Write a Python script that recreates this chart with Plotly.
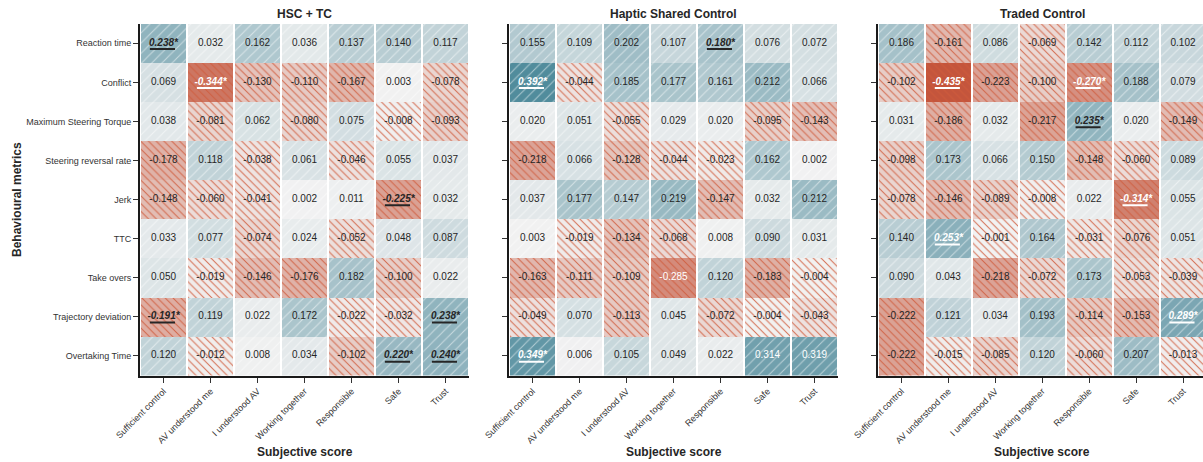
import plotly.graph_objects as go
from plotly.colors import sample_colorscale

# Behavioural metrics (rows) and subjective scores (columns)
metrics = [
    "Reaction time", "Conflict", "Maximum Steering Torque", "Steering reversal rate",
    "Jerk", "TTC", "Take overs", "Trajectory deviation", "Overtaking Time",
]
scores = [
    "Sufficient control", "AV understood me", "I understood AV", "Working together",
    "Responsible", "Safe", "Trust",
]
panel_titles = ["HSC + TC", "Haptic Shared Control", "Traded Control"]

# Correlation coefficients, one row per behavioural metric
hsc_tc = [
    [0.238, 0.032, 0.162, 0.036, 0.137, 0.140, 0.117],
    [0.069, -0.344, -0.130, -0.110, -0.167, 0.003, -0.078],
    [0.038, -0.081, 0.062, -0.080, 0.075, -0.008, -0.093],
    [-0.178, 0.118, -0.038, 0.061, -0.046, 0.055, 0.037],
    [-0.148, -0.060, -0.041, 0.002, 0.011, -0.225, 0.032],
    [0.033, 0.077, -0.074, 0.024, -0.052, 0.048, 0.087],
    [0.050, -0.019, -0.146, -0.176, 0.182, -0.100, 0.022],
    [-0.191, 0.119, 0.022, 0.172, -0.022, -0.032, 0.238],
    [0.120, -0.012, 0.008, 0.034, -0.102, 0.220, 0.240],
]
haptic = [
    [0.155, 0.109, 0.202, 0.107, 0.180, 0.076, 0.072],
    [0.392, -0.044, 0.185, 0.177, 0.161, 0.212, 0.066],
    [0.020, 0.051, -0.055, 0.029, 0.020, -0.095, -0.143],
    [-0.218, 0.066, -0.128, -0.044, -0.023, 0.162, 0.002],
    [0.037, 0.177, 0.147, 0.219, -0.147, 0.032, 0.212],
    [0.003, -0.019, -0.134, -0.068, 0.008, 0.090, 0.031],
    [-0.163, -0.111, -0.109, -0.285, 0.120, -0.183, -0.004],
    [-0.049, 0.070, -0.113, 0.045, -0.072, -0.004, -0.043],
    [0.349, 0.006, 0.105, 0.049, 0.022, 0.314, 0.319],
]
traded = [
    [0.186, -0.161, 0.086, -0.069, 0.142, 0.112, 0.102],
    [-0.102, -0.435, -0.223, -0.100, -0.270, 0.188, 0.079],
    [0.031, -0.186, 0.032, -0.217, 0.235, 0.020, -0.149],
    [-0.098, 0.173, 0.066, 0.150, -0.148, -0.060, 0.089],
    [-0.078, -0.146, -0.089, -0.008, 0.022, -0.314, 0.055],
    [0.140, 0.253, -0.001, 0.164, -0.031, -0.076, 0.051],
    [0.090, 0.043, -0.218, -0.072, 0.173, -0.053, -0.039],
    [-0.222, 0.121, 0.034, 0.193, -0.114, -0.153, 0.289],
    [-0.222, -0.015, -0.085, 0.120, -0.060, 0.207, -0.013],
]

# Significant correlations as (row, column)
sig_hsc_tc = [(0, 0), (1, 1), (4, 5), (7, 0), (7, 6), (8, 5), (8, 6)]
sig_haptic = [(0, 4), (1, 0), (8, 0)]
sig_traded = [(1, 1), (1, 4), (2, 4), (4, 5), (5, 1), (7, 6)]

panels = [(hsc_tc, sig_hsc_tc), (haptic, sig_haptic), (traded, sig_traded)]

W, H = 1203, 462
FONT = "Arial, 'Liberation Sans', sans-serif"
V_LIM = 0.44
CORR_SCALE = [[0.0, "#c3533a"], [0.5, "#f2f2f2"], [1.0, "#3d7f92"]]
DARK_TEXT = "#262626"
AXIS_COLOR = "#1a1a1a"
CELL_W = 0.955

# Hatch styles: negative -> "\" in red, positive -> "/" in translucent white
HATCH = {
    "neg": dict(shape="\\", color="#cf5a3b", opacity=0.85, size=5.5, solidity=0.19),
    "pos": dict(shape="/", color="#ffffff", opacity=0.5, size=7.2, solidity=0.15),
}

# Horizontal pixel extents of each panel and its right-hand data limit
panel_px = [(140, 469, 6.5), (509, 838, 6.5), (878, 1203, 6.5 - 3.5 / 47)]
Y_TOP, Y_BOT = 23.8, 375.5

fig = go.Figure()
annotations = []

for k, ((values, sig), title) in enumerate(zip(panels, panel_titles), start=1):
    xa, ya = f"x{k}", f"y{k}"
    sig_set = set(sig)
    xs, ys, bases, colors = [], [], [], []
    hatch_cells = {"neg": ([], []), "pos": ([], [])}
    labels, tcolors = [], []
    ul = {DARK_TEXT: ([], []), "white": ([], [])}
    for r, row in enumerate(values):
        for c, v in enumerate(row):
            xs.append(c)
            ys.append(r)
            bases.append(r - 0.5)
            colors.append(sample_colorscale(CORR_SCALE, [(v + V_LIM) / (2 * V_LIM)])[0])
            hx, hb = hatch_cells["neg" if v < 0 else "pos"]
            hx.append(c)
            hb.append(r - 0.5)
            tc = "white" if abs(v) >= 0.25 else DARK_TEXT
            tcolors.append(tc)
            if (r, c) in sig_set:
                labels.append(f"<b><i>{v:.3f}*</i></b>")
                ux, uy = ul[tc]
                ux += [c - 0.29, c + 0.245, None]
                uy += [r + 0.145, r + 0.145, None]
            else:
                labels.append(f"{v:.3f}")

    # solid cell fill
    fig.add_trace(go.Bar(
        x=xs, y=[1] * len(xs), base=bases, width=CELL_W,
        marker=dict(color=colors, line=dict(width=0)),
        xaxis=xa, yaxis=ya, hoverinfo="skip", showlegend=False,
    ))
    # hatching on top of the fill
    for key, (hx, hb) in hatch_cells.items():
        if not hx:
            continue
        st = HATCH[key]
        fig.add_trace(go.Bar(
            x=hx, y=[1] * len(hx), base=hb, width=CELL_W,
            marker=dict(
                color=st["color"], line=dict(width=0),
                pattern=dict(shape=st["shape"], fillmode="replace",
                             fgcolor=st["color"], fgopacity=st["opacity"],
                             size=st["size"], solidity=st["solidity"]),
            ),
            xaxis=xa, yaxis=ya, hoverinfo="skip", showlegend=False,
        ))
    fig.add_trace(go.Scatter(
        x=xs, y=ys, mode="text", text=labels,
        textfont=dict(color=tcolors, size=10, family=FONT),
        textposition="middle center",
        xaxis=xa, yaxis=ya, hoverinfo="skip", showlegend=False,
    ))
    for col, (ux, uy) in ul.items():
        if ux:
            fig.add_trace(go.Scatter(
                x=ux, y=uy, mode="lines", line=dict(color=col, width=2),
                xaxis=xa, yaxis=ya, hoverinfo="skip", showlegend=False,
            ))

    x0, x1, xmax = panel_px[k - 1]
    axis_common = dict(
        showline=True, linecolor=AXIS_COLOR, linewidth=2, mirror=False,
        ticks="outside", ticklen=5, tickwidth=1, tickcolor="#333",
        showgrid=False, zeroline=False, automargin=False,
        tickfont=dict(size=9, color="#333", family=FONT),
    )
    fig.update_layout(**{
        f"xaxis{k}": dict(
            domain=[x0 / W, x1 / W], range=[-0.5, xmax], anchor=ya,
            tickvals=list(range(len(scores))), ticktext=scores, tickangle=-45,
            **axis_common,
        ),
        f"yaxis{k}": dict(
            domain=[1 - Y_BOT / H, 1 - Y_TOP / H], range=[len(metrics) - 0.5, -0.5],
            anchor=xa, tickvals=list(range(len(metrics))), ticktext=metrics,
            showticklabels=(k == 1), **axis_common,
        ),
    })
    annotations.append(dict(
        text=f"<b>{title}</b>", x=3, xref=xa, y=1 - 14 / H, yref="paper",
        showarrow=False, xanchor="center", yanchor="middle",
        font=dict(size=12, color="#262626", family=FONT),
    ))
    annotations.append(dict(
        text="<b>Subjective score</b>", x=3, xref=xa, y=1 - 452 / H, yref="paper",
        showarrow=False, xanchor="center", yanchor="middle",
        font=dict(size=12, color="#262626", family=FONT),
    ))

annotations.append(dict(
    text="<b>Behavioural metrics</b>", x=17 / W, xref="paper",
    y=1 - 200 / H, yref="paper", textangle=-90, showarrow=False,
    xanchor="center", yanchor="middle",
    font=dict(size=12, color="#262626", family=FONT),
))

fig.update_layout(
    width=W, height=H, autosize=False,
    margin=dict(l=0, r=0, t=0, b=0, autoexpand=False),
    paper_bgcolor="white", plot_bgcolor="white",
    barmode="overlay", bargap=0,
    annotations=annotations,
    font=dict(family=FONT),
)

fig.write_html("out.html")
